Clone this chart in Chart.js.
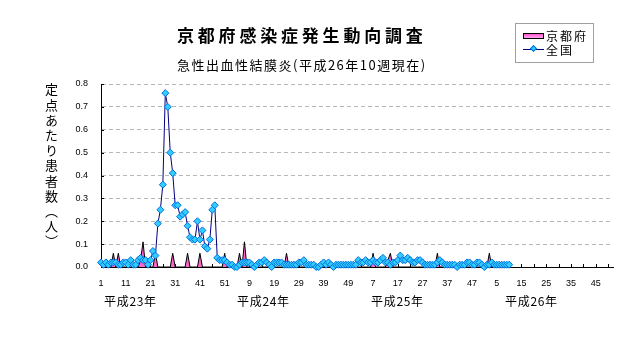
<!DOCTYPE html>
<html>
<head>
<meta charset="utf-8">
<script src="https://cdn.jsdelivr.net/npm/chart.js@4/dist/chart.umd.min.js"></script>
<style>
  html, body { margin:0; padding:0; background:#fff; }
  #wrap { position:relative; width:632px; height:348px; overflow:hidden; background:#fff; }
  #c { position:absolute; left:0; top:0; }
  .t { position:absolute; white-space:nowrap; font-family:"Noto Sans CJK JP", sans-serif; color:#000; }
  #title { left:177px; top:26px; font-size:17px; line-height:17px; font-weight:bold; letter-spacing:3.8px; }
  #subtitle { left:177px; top:58px; font-size:13px; line-height:13px; letter-spacing:1.5px; }
  #ytitle { left:45px; top:83px; font-size:13px; line-height:13px; letter-spacing:2.2px; writing-mode:vertical-rl; }
  .year { top:295px; font-size:12px; line-height:12px; letter-spacing:0.7px; }
  #legend { position:absolute; left:515px; top:23px; width:77px; height:38px; border:1px solid #a0a0a0; background:#fff; }
  #sw1 { position:absolute; left:7px; top:9px; width:19px; height:4px; border:1px solid #000; background:linear-gradient(to bottom,#ff55d0,#ffaaee); }
  #ln2 { position:absolute; left:7px; top:25px; width:21px; height:1px; background:#000080; }
  #dm2 { position:absolute; left:15px; top:22px; width:5px; height:5px; background:#33ccff; border:1px solid #0070e0; transform:rotate(45deg); box-sizing:border-box; }
  .lt { position:absolute; left:30px; font-size:12px; line-height:12px; letter-spacing:2px; font-family:"Noto Sans CJK JP", sans-serif; white-space:nowrap; }
</style>
</head>
<body>
<div id="wrap">
  <canvas id="c" width="632" height="348"></canvas>
  <div class="t" id="title">京都府感染症発生動向調査</div>
  <div class="t" id="subtitle">急性出血性結膜炎(平成26年10週現在)</div>
  <div class="t" id="ytitle">定点あたり患者数（人）</div>
  <div id="legend">
    <div id="sw1"></div><div class="lt" style="top:6px">京都府</div>
    <div id="ln2"></div><div id="dm2"></div><div class="lt" style="top:20px">全国</div>
  </div>
</div>
<script>
// ---- data ----
const yearNames = ['平成23年', '平成24年', '平成25年', '平成26年'];
const weeksPerYear = [52, 52, 52, 52];
const yearLabelLeft = [104, 237, 371, 505];

// week categories (1..52 for each year)
const categories = [];
weeksPerYear.forEach(n => { for (let w = 1; w <= n; w++) categories.push(String(w)); });

// 全国 (national), weekly values from 平成23年第1週 to 平成26年第10週
const national = [
  0.02,0.01,0.02,0.01,0.02,0.02,0.02,0.01,0.01,0.02,
  0.02,0.01,0.03,0.01,0.01,0.03,0.04,0.03,0.03,0.01,
  0.03,0.07,0.05,0.19,0.25,0.36,0.76,0.70,0.50,0.41,
  0.27,0.27,0.22,0.23,0.24,0.18,0.13,0.12,0.12,0.20,
  0.12,0.16,0.09,0.08,0.12,0.25,0.27,0.04,0.03,0.03,
  0.03,0.02,0.01,0.01,0.00,0.00,0.01,0.02,0.02,0.02,
  0.02,0.01,0.00,0.01,0.02,0.02,0.03,0.02,0.01,0.00,
  0.02,0.02,0.02,0.02,0.01,0.01,0.01,0.01,0.01,0.01,
  0.02,0.02,0.03,0.01,0.01,0.01,0.01,0.00,0.00,0.01,
  0.02,0.01,0.02,0.01,0.00,0.01,0.01,0.01,0.01,0.01,
  0.01,0.01,0.01,0.01,0.03,0.02,0.02,0.03,0.02,0.02,
  0.03,0.02,0.02,0.03,0.04,0.02,0.02,0.01,0.02,0.02,
  0.03,0.05,0.03,0.03,0.04,0.03,0.02,0.02,0.03,0.03,
  0.02,0.01,0.01,0.01,0.01,0.01,0.02,0.03,0.02,0.01,
  0.01,0.01,0.01,0.01,0.00,0.01,0.01,0.01,0.02,0.02,
  0.01,0.01,0.02,0.02,0.01,0.00,0.01,0.01,0.02,0.01,
  0.01,0.01,0.01,0.01,0.01,0.01
];

// 京都府 (Kyoto), same weeks
const kyoto = [
  0,0,0,0,0,0.06,0,0.06,0,0,
  0,0,0,0,0,0,0.03,0.11,0,0,
  0,0,0.06,0,0,0,0,0,0,0.06,
  0,0,0,0,0,0.06,0,0,0,0,
  0.06,0,0,0,0,0,0,0,0,0,
  0.06,0,0,0,0,0,0.06,0,0.11,0,
  0,0,0,0,0,0,0,0,0,0,
  0,0,0,0,0,0.06,0,0,0,0,
  0,0,0,0,0,0,0,0,0,0,
  0,0,0,0,0,0,0,0,0,0,
  0,0,0,0,0,0,0,0,0,0,
  0.06,0,0,0,0,0,0.03,0.06,0,0,
  0,0,0,0,0,0,0,0,0,0,
  0,0,0,0,0,0,0.06,0,0,0,
  0,0,0,0,0,0,0,0,0,0,
  0,0,0,0,0,0,0,0.06,0,0,
  0,0,0,0,0,0
];

const yTicks = [0, 0.1, 0.2, 0.3, 0.4, 0.5, 0.6, 0.7, 0.8];

// year labels as real text
const wrap = document.getElementById('wrap');
yearNames.forEach((name, k) => {
  const d = document.createElement('div');
  d.className = 't year';
  d.style.left = yearLabelLeft[k] + 'px';
  d.textContent = name;
  wrap.appendChild(d);
});

// inward tick marks (drawn under the data)
const inwardTicks = {
  id: 'inwardTicks',
  beforeDatasetsDraw(chart) {
    const { ctx, chartArea, scales } = chart;
    ctx.save();
    ctx.strokeStyle = '#000';
    ctx.lineWidth = 1;
    ctx.beginPath();
    for (let i = 0; i < categories.length; i += 5) {
      const px = Math.round(scales.x.getPixelForValue(i)) + 0.5;
      ctx.moveTo(px, chartArea.bottom);
      ctx.lineTo(px, chartArea.bottom - 3);
    }
    yTicks.forEach(v => {
      const py = Math.round(scales.y.getPixelForValue(v)) + 0.5;
      ctx.moveTo(chartArea.left, py);
      ctx.lineTo(chartArea.left + 3, py);
    });
    ctx.stroke();
    ctx.restore();
  }
};

const tickFont = { family: 'Liberation Sans, Arial, sans-serif', size: 9 };

new Chart(document.getElementById('c'), {
  type: 'line',
  data: {
    labels: categories,
    datasets: [
      {
        label: '全国',
        data: national,
        order: 0,
        borderColor: '#000080',
        borderWidth: 1,
        tension: 0,
        fill: false,
        pointStyle: 'rectRot',
        pointRadius: 3.5,
        pointBackgroundColor: '#33ccff',
        pointBorderColor: '#0070e0',
        pointBorderWidth: 1,
        clip: false
      },
      {
        label: '京都府',
        data: kyoto,
        order: 1,
        borderColor: '#000000',
        borderWidth: 1,
        backgroundColor: '#ff66cc',
        fill: 'origin',
        tension: 0,
        pointRadius: 0,
        clip: false
      }
    ]
  },
  options: {
    responsive: false,
    animation: false,
    devicePixelRatio: 1,
    events: [],
    layout: { padding: { left: 0, right: 19, top: 84, bottom: 0 } },
    plugins: {
      legend: { display: false },
      title: { display: false },
      tooltip: { enabled: false }
    },
    scales: {
      x: {
        type: 'category',
        offset: false,
        grid: { display: false, drawTicks: false },
        border: { display: true, color: '#000', width: 1 },
        ticks: {
          autoSkip: false,
          maxRotation: 0,
          minRotation: 0,
          padding: 11,
          color: '#000',
          font: tickFont,
          callback: function (value, index) {
            return index % 10 === 0 ? this.getLabelForValue(value) : '';
          }
        },
        afterFit: s => { s.height = 81; }
      },
      y: {
        min: 0,
        max: 0.8,
        grid: {
          drawTicks: false,
          lineWidth: 1,
          color: ctx => (ctx.tick && ctx.tick.value === 0) ? 'rgba(0,0,0,0)' : '#b8b8b8'
        },
        border: { display: true, color: '#000', width: 1, dash: [4, 3] },
        ticks: {
          stepSize: 0.1,
          padding: 13,
          color: '#000',
          font: tickFont,
          callback: v => Number(v).toFixed(1)
        },
        afterFit: s => { s.width = 101; }
      }
    }
  },
  plugins: [inwardTicks]
});
</script>
</body>
</html>
